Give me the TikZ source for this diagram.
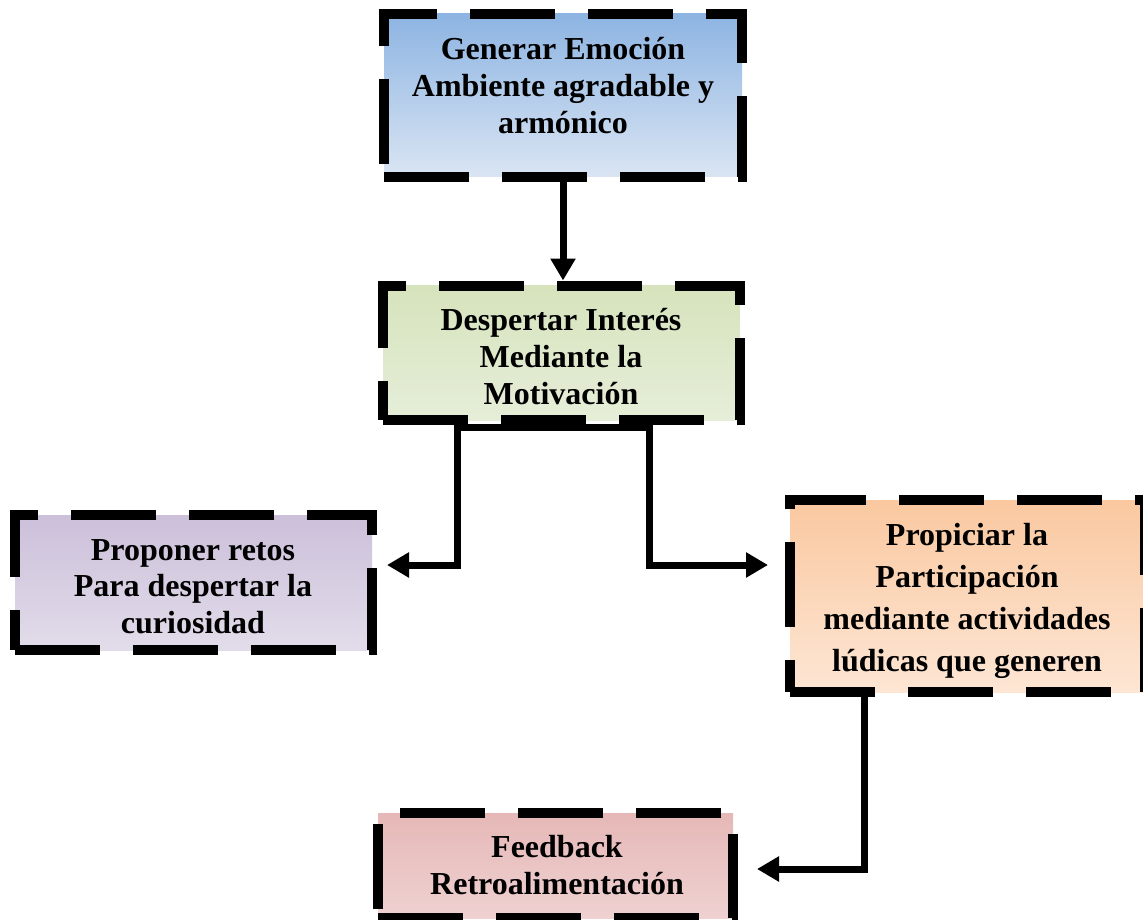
\documentclass[tikz,border=0pt]{standalone}
\usepackage{fontspec}
\setmainfont{Liberation Serif}
\usetikzlibrary{arrows.meta,calc}
\definecolor{b1t}{HTML}{8DB4E2}\definecolor{b1b}{HTML}{DAE5F3}
\definecolor{b2t}{HTML}{D6E3BC}\definecolor{b2b}{HTML}{E6EED9}
\definecolor{b3t}{HTML}{CCC0DA}\definecolor{b3b}{HTML}{E2DCEA}
\definecolor{b4t}{HTML}{FAC8A0}\definecolor{b4b}{HTML}{FDE6D4}
\definecolor{b5t}{HTML}{E5B8B7}\definecolor{b5b}{HTML}{EFD1D1}
\tikzset{
  boxx/.style={draw=black, line width=10pt, dash pattern=on 85pt off 33pt, inner sep=0pt},
  txt/.style={anchor=base, inner sep=0pt, font=\bfseries\fontsize{32}{37}\selectfont},
  conn/.style={line width=7pt, -{Triangle[length=22pt,width=24pt]}}
}
\begin{document}
\begin{tikzpicture}[x=1pt,y=-1pt]
\useasboundingbox (0,0) rectangle (1143,920);
% boxes
\node[boxx, minimum width=358pt, minimum height=163pt, top color=b1t, bottom color=b1b] (b1) at (563,95.5) {};
\node[boxx, minimum width=357pt, minimum height=134.5pt, top color=b2t, bottom color=b2b] (b2) at (561.5,352.75) {};
\node[boxx, minimum width=357pt, minimum height=135pt, top color=b3t, bottom color=b3b] (b3) at (193.5,582.5) {};
\node[boxx, minimum width=355pt, minimum height=192pt, top color=b4t, bottom color=b4b] (b4) at (967.5,596) {};
\node[boxx, minimum width=355pt, minimum height=105pt, top color=b5t, bottom color=b5b] (b5) at (555.5,865.5) {};
% texts
\node[txt] (t1) at (563,60) {\begin{tabular}[t]{@{}c@{}}Generar Emoción\\Ambiente agradable y\\armónico\end{tabular}};
\node[txt] (t2) at (561,330) {\begin{tabular}[t]{@{}c@{}}Despertar Interés\\Mediante la\\Motivación\end{tabular}};
\node[txt, font=\bfseries\fontsize{32}{36.5}\selectfont] (t3) at (193,560) {\begin{tabular}[t]{@{}c@{}}Proponer retos\\Para despertar la\\curiosidad\end{tabular}};
\node[txt, font=\bfseries\fontsize{32}{42.3}\selectfont] (t4) at (967,545) {\begin{tabular}[t]{@{}c@{}}Propiciar la\\Participación\\mediante actividades\\lúdicas que generen\end{tabular}};
\node[txt] (t5) at (557,857) {\begin{tabular}[t]{@{}c@{}}Feedback\\Retroalimentación\end{tabular}};
% connector coordinates
\coordinate (j) at ([yshift=-2.5pt]b2.south);
\coordinate (l2) at (457,565);
\coordinate (a3) at (387,565);
\coordinate (r2) at (649,565);
\coordinate (a4) at (768,565);
\coordinate (a5) at (757,869);
% connectors
\draw[conn] (b1.south) -- (b1.south |- b2.north);
\draw[conn] (j) -| (l2) -- (a3);
\draw[conn] (j) -| (r2) -- (a4);
\draw[conn] ([xshift=79.5pt]b4.south west) |- (a5);
\end{tikzpicture}
\end{document}
